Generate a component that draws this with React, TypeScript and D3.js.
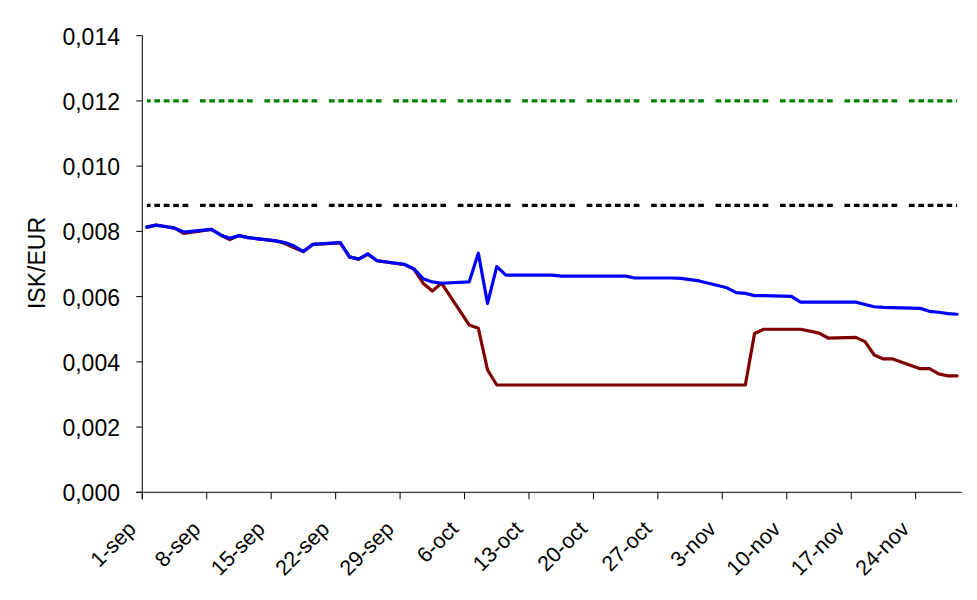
import React from 'react';
import * as d3 from 'd3';

const W = 977;
const H = 600;

// Trading days (weekdays) Sep 1 – Nov 28, 2008
const dates: string[] = [
  '2008-09-01', '2008-09-02', '2008-09-03', '2008-09-04', '2008-09-05',
  '2008-09-08', '2008-09-09', '2008-09-10', '2008-09-11', '2008-09-12',
  '2008-09-15', '2008-09-16', '2008-09-17', '2008-09-18', '2008-09-19',
  '2008-09-22', '2008-09-23', '2008-09-24', '2008-09-25', '2008-09-26',
  '2008-09-29', '2008-09-30', '2008-10-01', '2008-10-02', '2008-10-03',
  '2008-10-06', '2008-10-07', '2008-10-08', '2008-10-09', '2008-10-10',
  '2008-10-13', '2008-10-14', '2008-10-15', '2008-10-16', '2008-10-17',
  '2008-10-20', '2008-10-21', '2008-10-22', '2008-10-23', '2008-10-24',
  '2008-10-27', '2008-10-28', '2008-10-29', '2008-10-30', '2008-10-31',
  '2008-11-03', '2008-11-04', '2008-11-05', '2008-11-06', '2008-11-07',
  '2008-11-10', '2008-11-11', '2008-11-12', '2008-11-13', '2008-11-14',
  '2008-11-17', '2008-11-18', '2008-11-19', '2008-11-20', '2008-11-21',
  '2008-11-24', '2008-11-25', '2008-11-26', '2008-11-27', '2008-11-28',
];

const blueSeries: number[] = [
  0.00813, 0.00819, 0.00815, 0.0081, 0.00798,
  0.00806, 0.00789, 0.00779, 0.00787, 0.00781,
  0.00771, 0.00766, 0.00755, 0.00738, 0.0076,
  0.00766, 0.00722, 0.00715, 0.00731, 0.0071,
  0.00699, 0.00685, 0.00655, 0.00645, 0.00641,
  0.00645, 0.00733, 0.00579, 0.00692, 0.00666,
  0.00666, 0.00666, 0.00666, 0.00663, 0.00663,
  0.00663, 0.00663, 0.00663, 0.00663, 0.00657,
  0.00657, 0.00657, 0.00656, 0.00652, 0.00648,
  0.00627, 0.00612, 0.0061, 0.00603, 0.00603,
  0.00601, 0.00583, 0.00583, 0.00583, 0.00583,
  0.00583, 0.00576, 0.00569, 0.00567, 0.00566,
  0.00564, 0.00555, 0.00552, 0.00548, 0.00546,
];

const redSeries: number[] = [
  0.00813, 0.00819, 0.00815, 0.0081, 0.00794,
  0.00806, 0.00789, 0.00775, 0.00787, 0.00781,
  0.00771, 0.00763, 0.0075, 0.00738, 0.0076,
  0.00765, 0.00722, 0.00715, 0.0073, 0.0071,
  0.00698, 0.00684, 0.00641, 0.00617, 0.00641,
  0.00513, 0.00503, 0.00375, 0.00329, 0.00329,
  0.00329, 0.00329, 0.00329, 0.00329, 0.00329,
  0.00329, 0.00329, 0.00329, 0.00329, 0.00329,
  0.00329, 0.00329, 0.00329, 0.00329, 0.00329,
  0.00329, 0.00329, 0.00329, 0.00487, 0.005,
  0.005, 0.005, 0.00494, 0.00488, 0.00473,
  0.00475, 0.00462, 0.00421, 0.00409, 0.00409,
  0.00379, 0.00379, 0.00363, 0.00357, 0.00357,
];

const upperLevel = 0.012;
const lowerLevel = 0.0088;

const yTicks: number[] = [0, 0.002, 0.004, 0.006, 0.008, 0.01, 0.012, 0.014];

const xTickDates: string[] = [
  '2008-09-01', '2008-09-08', '2008-09-15', '2008-09-22', '2008-09-29',
  '2008-10-06', '2008-10-13', '2008-10-20', '2008-10-27', '2008-11-03',
  '2008-11-10', '2008-11-17', '2008-11-24',
];
const xTickLabels: string[] = [
  '1-sep', '8-sep', '15-sep', '22-sep', '29-sep', '6-oct', '13-oct',
  '20-oct', '27-oct', '3-nov', '10-nov', '17-nov', '24-nov',
];

const axisStart = '2008-09-01';
const axisEnd = '2008-11-29';

const FONT = '"Liberation Sans", Arial, sans-serif';

const day = (s: string) => new Date(s + 'T00:00:00Z');
const mid = (s: string) => new Date(s + 'T12:00:00Z');

export default function App() {
  const x = d3.scaleUtc().domain([day(axisStart), day(axisEnd)]).range([142.3, 961.7]);
  const y = d3.scaleLinear().domain([0, 0.014]).range([492.3, 35.7]);

  const line = d3
    .line<number>()
    .x((_, i) => x(mid(dates[i])))
    .y((v) => y(v));

  const x0 = x(mid(dates[0]));
  const x1 = x(mid(dates[dates.length - 1]));
  const week = x(day(xTickDates[1])) - x(day(xTickDates[0]));
  const dash = week * 0.0885;
  const gap = week * 0.0575;
  const big = week - 6 * dash - 5 * gap;
  const dashArr = [dash, gap, dash, gap, dash, gap, dash, gap, dash, gap, dash, big].join(',');
  const groupStart = x(day(xTickDates[1])) - 0.105 * week - week;
  const dashOffset = x0 - groupStart;

  const axisX = x.range()[0];
  const axisY = y(0);

  return (
    <svg
      width={W}
      height={H}
      style={{ position: 'absolute', left: 0, top: 0, background: '#fff' }}
      fontFamily={FONT}
    >
      <rect x={0} y={0} width={W} height={H} fill="#fff" />

      {/* dashed reference lines */}
      <line
        x1={x0}
        x2={x1}
        y1={y(upperLevel)}
        y2={y(upperLevel)}
        stroke="#008000"
        strokeWidth={3.2}
        strokeDasharray={dashArr}
        strokeDashoffset={dashOffset}
      />
      <line
        x1={x0}
        x2={x1}
        y1={y(lowerLevel)}
        y2={y(lowerLevel)}
        stroke="#000"
        strokeWidth={3.2}
        strokeDasharray={dashArr}
        strokeDashoffset={dashOffset}
      />

      {/* series */}
      <path d={line(redSeries) || ''} fill="none" stroke="#800000" strokeWidth={3.2} strokeLinejoin="round" strokeLinecap="round" />
      <path d={line(blueSeries) || ''} fill="none" stroke="#0000ff" strokeWidth={3.2} strokeLinejoin="round" strokeLinecap="round" />

      {/* y axis */}
      <line x1={axisX} x2={axisX} y1={y(0.014)} y2={axisY + 7} stroke="#000" strokeWidth={1} />
      {yTicks.map((t) => (
        <g key={t}>
          <line x1={axisX - 6} x2={axisX} y1={y(t)} y2={y(t)} stroke="#000" strokeWidth={1} />
          <text x={120} y={y(t) + 9} textAnchor="end" fontSize={23} fill="#000">
            {t.toFixed(3).replace('.', ',')}
          </text>
        </g>
      ))}
      <text
        transform={`translate(45,263) rotate(-90)`}
        textAnchor="middle"
        fontSize={23}
        fill="#000"
      >
        ISK/EUR
      </text>

      {/* x axis */}
      <line x1={axisX - 6} x2={x.range()[1]} y1={axisY} y2={axisY} stroke="#000" strokeWidth={1} />
      {xTickDates.map((d, i) => {
        const tx = x(day(d));
        return (
          <g key={d}>
            <line x1={tx} x2={tx} y1={axisY} y2={axisY + 7} stroke="#000" strokeWidth={1} />
            <text
              transform={`translate(${tx - 5},${axisY + 38}) rotate(-45)`}
              textAnchor="end"
              fontSize={21.5}
              fill="#000"
            >
              {xTickLabels[i]}
            </text>
          </g>
        );
      })}
    </svg>
  );
}
